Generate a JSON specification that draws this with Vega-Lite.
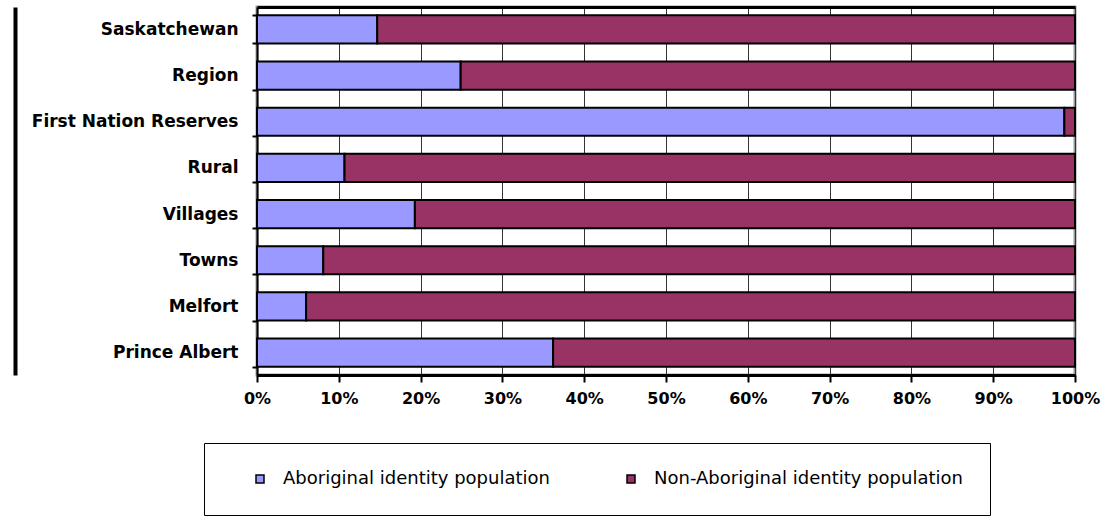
{
  "$schema": "https://vega.github.io/schema/vega-lite/v6.json",
  "width": 818,
  "height": 368,
  "autosize": {"type": "none"},
  "padding": {"left": 257, "top": 7, "right": 27, "bottom": 141},
  "background": "white",
  "config": {"view": {"stroke": "#999999", "strokeWidth": 3, "fill": "white"}},
  "data": {
    "values": [
      {"area": "Saskatchewan", "group": "Aboriginal identity population", "share": 14.7},
      {"area": "Saskatchewan", "group": "Non-Aboriginal identity population", "share": 85.3},
      {"area": "Region", "group": "Aboriginal identity population", "share": 24.9},
      {"area": "Region", "group": "Non-Aboriginal identity population", "share": 75.1},
      {"area": "First Nation Reserves", "group": "Aboriginal identity population", "share": 98.7},
      {"area": "First Nation Reserves", "group": "Non-Aboriginal identity population", "share": 1.3},
      {"area": "Rural", "group": "Aboriginal identity population", "share": 10.7},
      {"area": "Rural", "group": "Non-Aboriginal identity population", "share": 89.3},
      {"area": "Villages", "group": "Aboriginal identity population", "share": 19.3},
      {"area": "Villages", "group": "Non-Aboriginal identity population", "share": 80.7},
      {"area": "Towns", "group": "Aboriginal identity population", "share": 8.1},
      {"area": "Towns", "group": "Non-Aboriginal identity population", "share": 91.9},
      {"area": "Melfort", "group": "Aboriginal identity population", "share": 6.0},
      {"area": "Melfort", "group": "Non-Aboriginal identity population", "share": 94.0},
      {"area": "Prince Albert", "group": "Aboriginal identity population", "share": 36.2},
      {"area": "Prince Albert", "group": "Non-Aboriginal identity population", "share": 63.8}
    ]
  },
  "layer": [
    {
      "mark": {"type": "bar", "stroke": "black", "strokeWidth": 2},
      "encoding": {
        "y": {
          "field": "area", "type": "nominal",
          "sort": ["Saskatchewan", "Region", "First Nation Reserves", "Rural", "Villages", "Towns", "Melfort", "Prince Albert"],
          "scale": {"paddingInner": 0.39, "paddingOuter": 0.18},
          "axis": {
            "title": null, "domainColor": "black", "domainWidth": 2,
            "tickColor": "black", "tickWidth": 2, "tickSize": 5, "tickBand": "extent",
            "labelFont": "DejaVu Sans", "labelFontWeight": "bold", "labelFontSize": 17,
            "labelColor": "black", "labelPadding": 14, "labelLimit": 300, "grid": false
          }
        },
        "x": {
          "field": "share", "type": "quantitative", "stack": "normalize",
          "axis": {
            "title": null, "values": [0, 0.1, 0.2, 0.3, 0.4, 0.5, 0.6, 0.7, 0.8, 0.9, 1],
            "format": ".0%", "domainColor": "black", "domainWidth": 3,
            "tickColor": "black", "tickWidth": 2, "tickSize": 7,
            "labelFont": "DejaVu Sans", "labelFontWeight": "bold", "labelFontSize": 16,
            "labelColor": "black", "labelPadding": 8, "labelFlush": false,
            "grid": true, "gridColor": "#333333", "gridWidth": 1, "gridOpacity": 1
          }
        },
        "color": {
          "field": "group", "type": "nominal",
          "scale": {"domain": ["Aboriginal identity population", "Non-Aboriginal identity population"], "range": ["#9999FF", "#993366"]},
          "legend": {
            "title": null, "orient": "none", "legendX": -53, "legendY": 436,
            "direction": "horizontal", "columns": 2, "gridAlign": "all",
            "padding": 27, "strokeColor": "black", "fillColor": "white",
            "symbolType": "square", "symbolSize": 64, "symbolStrokeColor": "black", "symbolStrokeWidth": 1.5,
            "symbolOffset": 20, "labelOffset": 14, "columnPadding": 10,
            "labelFont": "DejaVu Sans", "labelFontSize": 18, "labelColor": "black", "labelLimit": 500
          }
        }
      }
    },
    {
      "mark": {"type": "bar", "opacity": 0},
      "encoding": {
        "y": {
          "field": "area", "type": "nominal",
          "sort": ["Saskatchewan", "Region", "First Nation Reserves", "Rural", "Villages", "Towns", "Melfort", "Prince Albert"],
          "axis": {"orient": "left", "offset": 242, "title": null, "labels": false, "ticks": false, "grid": false, "domainColor": "black", "domainWidth": 4}
        },
        "x": {
          "field": "share", "type": "quantitative", "stack": "normalize",
          "axis": {"orient": "top", "title": null, "labels": false, "ticks": false, "grid": false, "domain": true, "domainColor": "black", "domainWidth": 3}
        }
      }
    }
  ],
  "resolve": {"axis": {"x": "independent", "y": "independent"}}
}
